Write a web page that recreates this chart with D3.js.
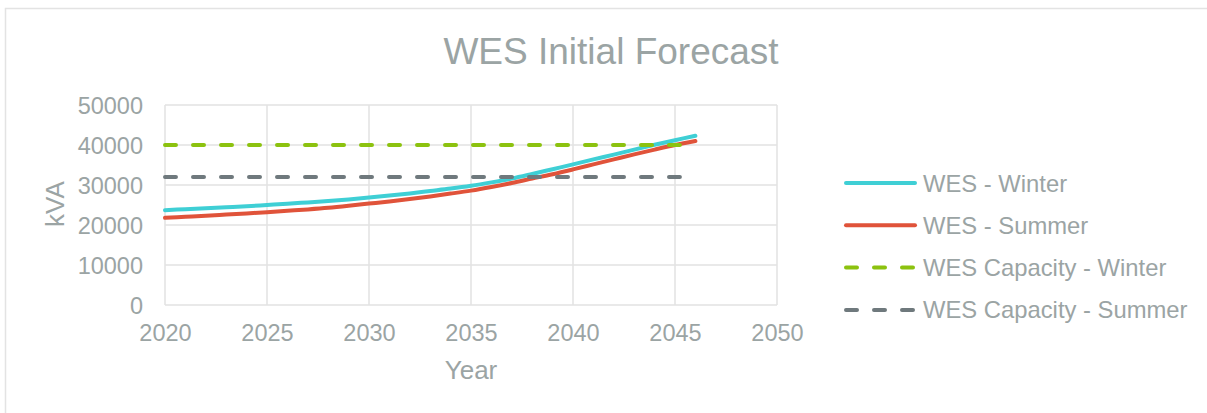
<!DOCTYPE html>
<html>
<head>
<meta charset="utf-8">
<script src="https://cdn.jsdelivr.net/npm/d3@7"></script>
<style>
  body { margin: 0; background: #fff; }
  text { font-family: "Liberation Sans", Arial, sans-serif; fill: #9ba4a4; }
</style>
</head>
<body>
<div id="chart"></div>
<script>
const years = [2020, 2021, 2022, 2023, 2024, 2025, 2026, 2027, 2028, 2029, 2030,
               2031, 2032, 2033, 2034, 2035, 2036, 2037, 2038, 2039, 2040,
               2041, 2042, 2043, 2044, 2045, 2046];
const winter = [23700, 23950, 24200, 24450, 24700, 25000, 25300, 25650, 26000, 26400, 26850,
                27350, 27900, 28500, 29100, 29800, 30650, 31600, 32750, 33950, 35150,
                36400, 37600, 38850, 40050, 41200, 42300];
const summer = [21800, 22050, 22300, 22600, 22900, 23200, 23550, 23900, 24300, 24800, 25350,
                25900, 26500, 27150, 27850, 28600, 29500, 30500, 31600, 32700, 33900,
                35150, 36400, 37650, 38850, 40000, 41000];
const capWinter = years.map(function() { return 40000; });
const capSummer = years.map(function() { return 32000; });
const xTicks = [2020, 2025, 2030, 2035, 2040, 2045, 2050];
const yTicks = [0, 10000, 20000, 30000, 40000, 50000];
const seriesNames = ['WES - Winter', 'WES - Summer', 'WES Capacity - Winter', 'WES Capacity - Summer'];

const w = 1207;
const h = 413;
const plotLeft = 165, plotRight = 777, plotTop = 105, plotBottom = 305;

const series = [
  { name: seriesNames[0], values: winter, color: '#3fcfd5', dash: null },
  { name: seriesNames[1], values: summer, color: '#e0533a', dash: null },
  { name: seriesNames[2], values: capWinter, color: '#8cc20f', dash: '11,17' },
  { name: seriesNames[3], values: capSummer, color: '#6f797d', dash: '11,17' }
];

const xScale = d3.scaleLinear().domain([2020, 2050]).range([plotLeft, plotRight]);
const yScale = d3.scaleLinear().domain([0, 50000]).range([plotBottom, plotTop]);

const svg = d3.select('#chart')
  .append('svg')
  .attr('width', w)
  .attr('height', h);

// outer chart border
svg.append('rect')
  .attr('x', 5.5).attr('y', 8.5)
  .attr('width', w).attr('height', h)
  .attr('fill', 'none')
  .attr('stroke', '#e3e3e3')
  .attr('stroke-width', 1.5);

// grid
svg.append('g')
  .selectAll('line')
  .data(yTicks)
  .enter()
  .append('line')
  .attr('x1', plotLeft).attr('x2', plotRight)
  .attr('y1', function(d) { return yScale(d); })
  .attr('y2', function(d) { return yScale(d); })
  .attr('stroke', '#e2e2e2')
  .attr('stroke-width', 1.5);

svg.append('g')
  .selectAll('line')
  .data(xTicks)
  .enter()
  .append('line')
  .attr('y1', plotTop).attr('y2', plotBottom)
  .attr('x1', function(d) { return xScale(d); })
  .attr('x2', function(d) { return xScale(d); })
  .attr('stroke', '#e2e2e2')
  .attr('stroke-width', 1.5);

// axes labels via d3 axes, domain and tick lines hidden
const yAxis = svg.append('g')
  .attr('transform', 'translate(' + plotLeft + ',0)')
  .call(d3.axisLeft(yScale).tickValues(yTicks).tickSize(0).tickPadding(22).tickFormat(d3.format('d')));
yAxis.select('.domain').remove();
yAxis.selectAll('text')
  .attr('font-size', '23.5px')
  .attr('fill', '#9ba4a4')
  .attr('dy', '0.36em')
  .style('font-family', '"Liberation Sans", Arial, sans-serif');

const xAxis = svg.append('g')
  .attr('transform', 'translate(0,' + plotBottom + ')')
  .call(d3.axisBottom(xScale).tickValues(xTicks).tickSize(0).tickPadding(19).tickFormat(d3.format('d')));
xAxis.select('.domain').remove();
xAxis.selectAll('text')
  .attr('font-size', '23.5px')
  .attr('fill', '#9ba4a4')
  .style('font-family', '"Liberation Sans", Arial, sans-serif');

// lines
const line = d3.line()
  .x(function(d) { return xScale(d[0]); })
  .y(function(d) { return yScale(d[1]); })
  .curve(d3.curveCatmullRom);

svg.append('g')
  .selectAll('path')
  .data(series)
  .enter()
  .append('path')
  .attr('d', function(s) { return line(years.map(function(y, i) { return [y, s.values[i]]; })); })
  .attr('fill', 'none')
  .attr('stroke', function(s) { return s.color; })
  .attr('stroke-width', 4)
  .attr('stroke-linecap', 'round')
  .attr('stroke-dasharray', function(s) { return s.dash; });

// titles
svg.append('text')
  .text('WES Initial Forecast')
  .attr('x', 611).attr('y', 64)
  .attr('text-anchor', 'middle')
  .attr('font-size', '37px');

svg.append('text')
  .text('Year')
  .attr('x', 471).attr('y', 379)
  .attr('text-anchor', 'middle')
  .attr('font-size', '26px');

svg.append('text')
  .text('kVA')
  .attr('transform', 'translate(64,' + ((plotTop + plotBottom) / 2 - 1) + ') rotate(-90)')
  .attr('text-anchor', 'middle')
  .attr('font-size', '26px');

// legend
const legend = svg.append('g')
  .selectAll('g')
  .data(series)
  .enter()
  .append('g')
  .attr('transform', function(d, i) { return 'translate(846,' + (183 + i * 42.3) + ')'; });

legend.append('line')
  .attr('x1', 0).attr('x2', 69)
  .attr('y1', 0).attr('y2', 0)
  .attr('stroke', function(s) { return s.color; })
  .attr('stroke-width', 4)
  .attr('stroke-linecap', 'round')
  .attr('stroke-dasharray', function(s) { return s.dash ? '11,17' : null; });

legend.append('text')
  .text(function(s) { return s.name; })
  .attr('x', 77).attr('y', 8.5)
  .attr('font-size', '23.8px');
</script>
</body>
</html>
